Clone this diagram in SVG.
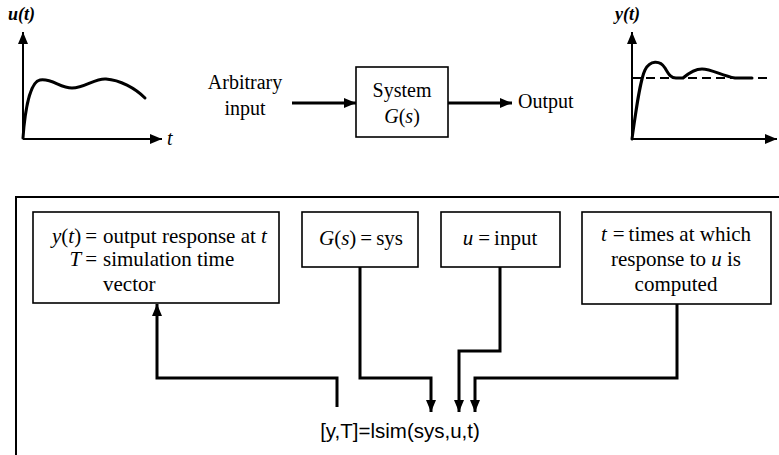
<svg xmlns="http://www.w3.org/2000/svg" width="779" height="455" viewBox="0 0 779 455">
<style>
text{font-family:"Liberation Serif","Times New Roman",serif;font-size:20px;fill:#000}
.b{font-size:21px}
.it{font-style:italic}
.lbl{font-style:italic;font-size:18px;font-weight:bold}
.box{fill:#fff;stroke:#000;stroke-width:1.6}
.conn{fill:none;stroke:#000;stroke-width:3}
.axis{fill:none;stroke:#000;stroke-width:2}
.curve{fill:none;stroke:#000;stroke-width:3;stroke-linecap:round}
.mono{font-family:"Liberation Sans",Arial,sans-serif;font-size:20.5px}
</style>
<defs>
<marker id="ah" markerUnits="userSpaceOnUse" viewBox="0 0 12 10" refX="12" refY="5" markerWidth="12" markerHeight="10" orient="auto">
<path d="M0,0 L12,5 L0,10 z" fill="#000"/>
</marker>
</defs>
<rect width="779" height="455" fill="#fff"/>

<g id="input-graph">
<path class="axis" d="M23,139 V32" marker-end="url(#ah)"/>
<path class="axis" d="M23,139 H162" marker-end="url(#ah)"/>
<path class="curve" d="M23,138 C25,110 30,82 40,80 C52,78 60,88 72,88 C85,88 95,78 106,79 C120,80 135,88 145,98"/>
<text class="lbl" x="8" y="20">u(t)</text>
<text class="it" x="167" y="145">t</text>
</g>

<g id="output-graph">
<path class="axis" d="M632,139 V32" marker-end="url(#ah)"/>
<path class="axis" d="M632,139 H777" marker-end="url(#ah)"/>
<path d="M632,78 H770" fill="none" stroke="#000" stroke-width="2" stroke-dasharray="9,5"/>
<path class="curve" d="M632,139 C636,110 640,80 645,70 C650,60 660,60 665,68 C669,75 671,78 676,78 L683,78 C690,72 695,69 702,69 C712,69 722,76 735,78 L752,78"/>
<text class="lbl" x="615" y="20">y(t)</text>
</g>

<g id="arbitrary-input">
<text x="245" y="89" text-anchor="middle">Arbitrary</text>
<text x="245" y="115" text-anchor="middle">input</text>
</g>

<g id="system">
<rect class="box" x="356" y="67" width="92" height="70"/>
<text x="402" y="97" text-anchor="middle">System</text>
<text x="402" y="123" text-anchor="middle"><tspan class="it">G</tspan>(<tspan class="it">s</tspan>)</text>
</g>

<g id="output">
<text x="518" y="108">Output</text>
</g>

<g id="frame">
<path d="M16,455 V197 H779" fill="none" stroke="#000" stroke-width="2"/>
</g>

<g id="box-y">
<rect class="box" x="33" y="212" width="246" height="91"/>
<text class="b" x="97" y="243" text-anchor="end"><tspan class="it">y</tspan>(<tspan class="it">t</tspan>)<tspan dx="4">=</tspan></text>
<text class="b" x="103" y="243">output response at <tspan class="it">t</tspan></text>
<text class="b" x="97" y="266" text-anchor="end"><tspan class="it">T</tspan><tspan dx="4">=</tspan></text>
<text class="b" x="103" y="266">simulation time</text>
<text class="b" x="103" y="291">vector</text>
</g>

<g id="box-sys">
<rect class="box" x="302" y="212" width="116" height="55"/>
<text class="b" x="361" y="245" text-anchor="middle"><tspan class="it">G</tspan>(<tspan class="it">s</tspan>)<tspan dx="4">=</tspan><tspan dx="4">sys</tspan></text>
</g>

<g id="box-u">
<rect class="box" x="441" y="212" width="119" height="55"/>
<text class="b" x="500" y="245" text-anchor="middle"><tspan class="it">u</tspan><tspan dx="5">=</tspan><tspan dx="4">input</tspan></text>
</g>

<g id="box-t">
<rect class="box" x="582" y="212" width="189" height="92"/>
<text class="b" x="676" y="241" text-anchor="middle"><tspan class="it">t</tspan><tspan dx="6">=</tspan><tspan dx="4">times at which</tspan></text>
<text class="b" x="676" y="266" text-anchor="middle">response to <tspan class="it">u</tspan> is</text>
<text class="b" x="676" y="291" text-anchor="middle">computed</text>
</g>

<g id="lsim">
<text class="mono" x="400" y="438" text-anchor="middle">[y,T]=lsim(sys,u,t)</text>
</g>

<g id="connectors">
<path class="conn" d="M292,103 H356" marker-end="url(#ah)"/>
<path class="conn" d="M448,103 H512" marker-end="url(#ah)"/>
<path class="conn" d="M337,407 V378 H157 V304" marker-end="url(#ah)"/>
<path class="conn" d="M360,267 V378 H431 V412" marker-end="url(#ah)"/>
<path class="conn" d="M500,267 V351 H459 V412" marker-end="url(#ah)"/>
<path class="conn" d="M677,304 V378 H475 V412" marker-end="url(#ah)"/>
</g>
</svg>
